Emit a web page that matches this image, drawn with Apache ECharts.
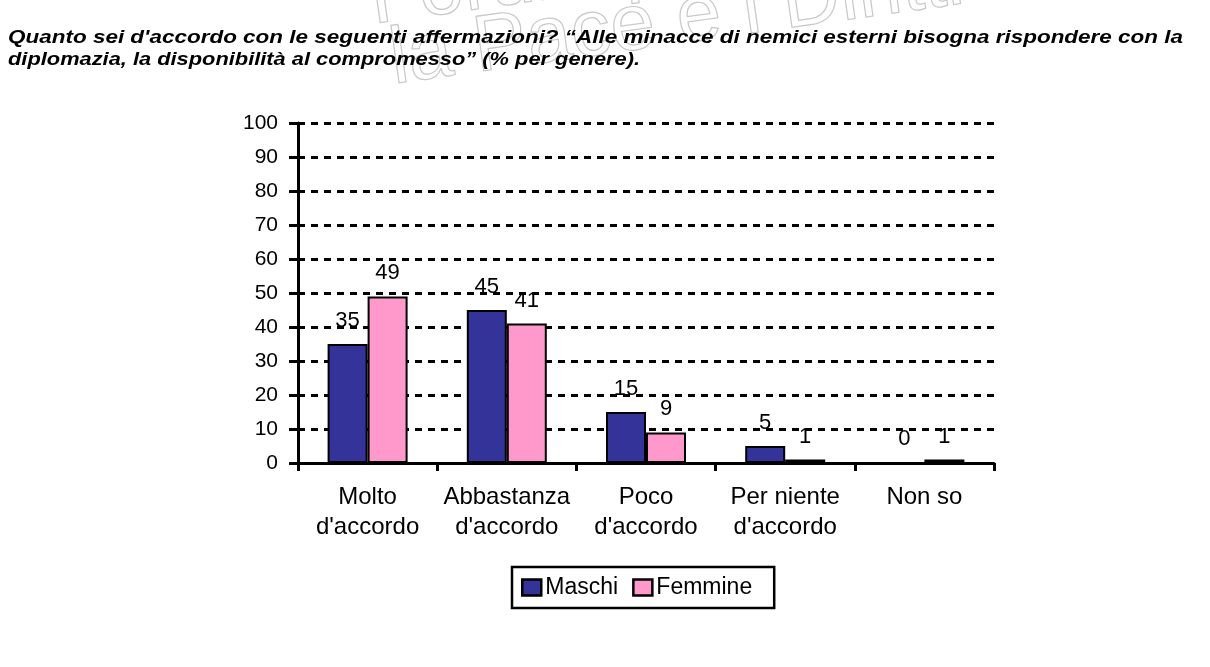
<!DOCTYPE html>
<html>
<head>
<meta charset="utf-8">
<script src="https://cdn.jsdelivr.net/npm/echarts@6/dist/echarts.min.js"></script>
<style>
html,body{margin:0;padding:0;background:#fff;}
#c{width:1210px;height:667px;}
</style>
</head>
<body>
<div id="c"></div>
<script>
const titleLines = [
  "Quanto sei d'accordo con le seguenti affermazioni? \u201cAlle minacce di nemici esterni bisogna rispondere con la",
  "diplomazia, la disponibilit\u00e0 al compromesso\u201d (% per genere)."
];
const watermarkLines = ["Forum per", "la Pace e i Diritti"];
const categories = ["Molto\nd'accordo", "Abbastanza\nd'accordo", "Poco\nd'accordo", "Per niente\nd'accordo", "Non so"];
const maschi = [35, 45, 15, 5, 0];
const femmine = [49, 41, 9, 1, 1];
const yTicks = { min: 0, max: 100, interval: 10 };

const FONT = "'Liberation Sans', Arial, sans-serif";
const TITLE_FONT = "italic bold 18px 'Liberation Sans', Arial, sans-serif";

// horizontal stretch of title lines so they span like the reference
const ctx = document.createElement('canvas').getContext('2d');
ctx.font = TITLE_FONT;
const w1 = ctx.measureText(titleLines[0]).width;
const w2 = ctx.measureText(titleLines[1]).width;
const sx1 = 1175 / w1;
const sx2 = 632 / w2;

const chart = echarts.init(document.getElementById('c'));
const barBorder = { borderColor: '#000', borderWidth: 2 };
const lbl = { show: true, position: 'top', distance: 12, color: '#000', fontSize: 22, fontFamily: FONT };

const titleStyle = { fontFamily: FONT, fontSize: 18, fontWeight: 'bold', fontStyle: 'italic', fill: '#000', verticalAlign: 'middle', align: 'left' };

chart.setOption({
  animation: false,
  backgroundColor: '#fff',
  graphic: [
    { type: 'text', x: 365, y: -38, rotation: 0.14, silent: true, z: 0,
      style: { text: watermarkLines[0], fontFamily: FONT, fontSize: 80, fill: 'rgba(0,0,0,0)', stroke: '#c8c8c8', lineWidth: 1.2 } },
    { type: 'text', x: 385, y: 22, rotation: 0.14, silent: true, z: 0,
      style: { text: watermarkLines[1], fontFamily: FONT, fontSize: 80, fill: 'rgba(0,0,0,0)', stroke: '#c8c8c8', lineWidth: 1.2 } },
    { type: 'text', x: 8, y: 38, scaleX: sx1, z: 10, silent: true,
      style: Object.assign({ text: titleLines[0] }, titleStyle) },
    { type: 'text', x: 8, y: 60, scaleX: sx2, z: 10, silent: true,
      style: Object.assign({ text: titleLines[1] }, titleStyle) }
  ],
  legend: {
    data: ['Maschi', 'Femmine'],
    left: 512, top: 567,
    orient: 'horizontal',
    borderColor: '#000', borderWidth: 2.5,
    padding: [9, 22, 9, 9],
    itemGap: 14,
    itemWidth: 19, itemHeight: 16,
    icon: 'rect',
    textStyle: { fontFamily: FONT, fontSize: 23, color: '#000', padding: [0, 0, 0, -1] },
    itemStyle: { borderColor: '#000', borderWidth: 2.5 }
  },
  grid: { left: 298, right: 216, top: 123, bottom: 204, containLabel: false },
  xAxis: {
    type: 'category',
    data: categories,
    axisLine: { lineStyle: { color: '#000', width: 3 } },
    axisTick: { show: true, length: 8, lineStyle: { color: '#000', width: 3 }, alignWithLabel: false },
    axisLabel: { color: '#000', fontSize: 24, fontFamily: FONT, margin: 19, lineHeight: 30, interval: 0 },
    splitLine: { show: false }
  },
  yAxis: {
    type: 'value',
    min: yTicks.min, max: yTicks.max, interval: yTicks.interval,
    axisLine: { show: true, lineStyle: { color: '#000', width: 3 } },
    axisTick: { show: true, length: 9, lineStyle: { color: '#000', width: 3 } },
    axisLabel: { color: '#000', fontSize: 21, fontFamily: FONT, margin: 20 },
    splitLine: { show: true, lineStyle: { color: '#000', width: 3, type: [7, 6] } }
  },
  series: [
    { name: 'Maschi', type: 'bar', data: maschi, barWidth: 40, barGap: '0%',
      itemStyle: Object.assign({ color: '#333399' }, barBorder), label: lbl },
    { name: 'Femmine', type: 'bar', data: femmine, barWidth: 40, barGap: '0%',
      itemStyle: Object.assign({ color: '#FF99CC' }, barBorder), label: lbl }
  ]
});
</script>
</body>
</html>
